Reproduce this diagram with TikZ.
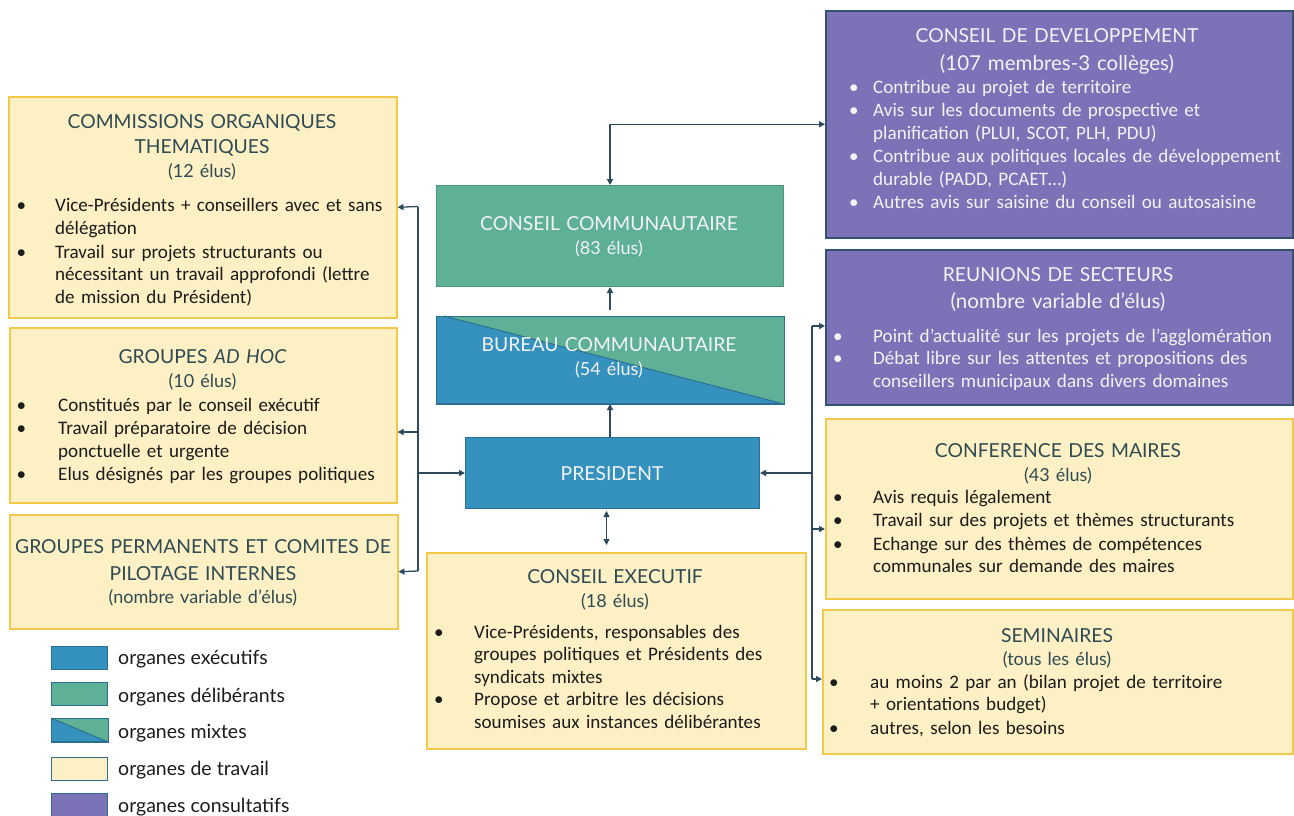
\documentclass[tikz,border=0pt]{standalone}
\usepackage{fontspec}
\setmainfont{Carlito}
\newfontfamily\lato{Lato}
\usetikzlibrary{arrows.meta}
\definecolor{cblue}{HTML}{3591BE}
\definecolor{cblueB}{HTML}{2B6F93}
\definecolor{cgreen}{HTML}{5EB197}
\definecolor{cgreenB}{HTML}{4A9680}
\definecolor{cyel}{HTML}{FEF0C5}
\definecolor{cyelB}{HTML}{F2C94A}
\definecolor{cpur}{HTML}{7C72B8}
\definecolor{cpurB}{HTML}{35536E}
\definecolor{ctitle}{HTML}{2E4A52}
\definecolor{cbody}{HTML}{1C1C1C}
\definecolor{carr}{HTML}{2F4B5B}
\definecolor{cwhite}{HTML}{F3F3F3}
\newcommand\bul[1][29pt]{\leavevmode\llap{\textbullet\hspace{#1}}\ignorespaces}
\tikzset{
  box/.style={draw, line width=1.5pt, inner sep=0pt, anchor=north west},
  ybox/.style={box, fill=cyel, draw=cyelB},
  pbox/.style={box, fill=cpur, draw=cpurB},
  ttl/.style={anchor=base, align=center, text width=460pt, inner sep=0pt,
    font=\lato\fontsize{19.3}{25}\selectfont, text=ctitle},
  sub/.style={ttl, font=\lato\fontsize{18}{22}\selectfont},
  bigsub/.style={ttl, font=\lato\fontsize{20.5}{24}\selectfont},
  wt/.style={text=cwhite},
  blist/.style={anchor=base west, align=left, text width=430pt, inner sep=0pt,
    font=\fontsize{19.1}{22.5}\selectfont, text=cbody},
  arr/.style={draw=carr, line width=1.3pt, -{Triangle[length=6pt,width=6pt]}},
  darr/.style={draw=carr, line width=1.3pt, {Triangle[length=6pt,width=6pt]}-{Triangle[length=6pt,width=6pt]}},
  cline/.style={draw=carr, line width=1.3pt},
  swatch/.style={draw=cblueB, line width=1pt, anchor=north west, minimum width=56pt, minimum height=23pt, inner sep=0pt},
  lgt/.style={anchor=base west, inner sep=0pt, font=\lato\fontsize{19.5}{22}\selectfont, text=cbody}
}
\begin{document}
\begin{tikzpicture}[x=1pt,y=-1pt]
\useasboundingbox (0,0) rectangle (1294,815);
\fill[white] (0,0) rectangle (1294,815);

% ---------- left column ----------
\node[ybox, minimum width=388pt, minimum height=221pt] (comm) at (8,96) {};
\node[ttl] (comm-t) at (202,128) {COMMISSIONS ORGANIQUES\\THEMATIQUES};
\node[sub] (comm-s) at (202,177) {(12 élus)};
\node[blist] (comm-b) at (55,211.7) {\bul Vice-Présidents + conseillers avec et sans\\ délégation\\[1.5pt] \bul Travail sur projets structurants ou\\ nécessitant un travail approfondi (lettre\\ de mission du Président)};

\node[ybox, minimum width=387pt, minimum height=175pt] (adhoc) at (9,327) {};
\node[ttl] (adhoc-t) at (202.5,363) {GROUPES {\itshape AD HOC}};
\node[sub] (adhoc-s) at (202.5,387) {(10 élus)};
\node[blist] (adhoc-b) at (58,411) {\bul[32pt] Constitués par le conseil exécutif\\[1pt] \bul[32pt] Travail préparatoire de décision\\ ponctuelle et urgente\\[1pt] \bul[32pt] Elus désignés par les groupes politiques};

\node[ybox, minimum width=388pt, minimum height=114pt] (perm) at (9,514) {};
\node[ttl, font=\lato\fontsize{19.3}{27}\selectfont] (perm-t) at (203,553) {GROUPES PERMANENTS ET COMITES DE\\PILOTAGE INTERNES};
\node[sub] (perm-s) at (203,603) {(nombre variable d’élus)};

% ---------- legend ----------
\node[swatch, fill=cblue] (lg1) at (51,646) {};
\node[swatch, fill=cgreen] (lg2) at (51,682) {};
\node[swatch, fill=cblue] (lg3) at (51,718) {};
\fill[cgreen] (lg3.north west) -- (lg3.north east) -- (lg3.south east) -- cycle;
\draw[cblueB, line width=1pt] (lg3.north west) -- (lg3.south east);
\draw[cblueB, line width=1pt] (lg3.north west) rectangle (lg3.south east);
\node[swatch, fill=cyel] (lg4) at (51,757) {};
\node[swatch, fill=cpur] (lg5) at (51,793) {};
\node[lgt] (lt1) at (118,664) {organes exécutifs};
\node[lgt] (lt2) at (118,702) {organes délibérants};
\node[lgt] (lt3) at (118,738) {organes mixtes};
\node[lgt] (lt4) at (118,775) {organes de travail};
\node[lgt] (lt5) at (118,812) {organes consultatifs};

% ---------- centre ----------
\node[box, fill=cgreen, draw=cgreenB, line width=1pt, minimum width=347pt, minimum height=101pt] (conseil) at (436,185) {};
\node[ttl, wt] (conseil-t) at (609,230) {CONSEIL COMMUNAUTAIRE};
\node[sub, wt] (conseil-s) at (609,254) {(83 élus)};

\node[box, fill=cblue, draw=cblueB, line width=1pt, minimum width=347pt, minimum height=87pt] (bureau) at (436,316) {};
\fill[cgreen] ([xshift=8pt]bureau.north west) -- (bureau.north east) -- (bureau.south east) -- cycle;
\draw[cblueB, line width=1pt] ([xshift=8pt]bureau.north west) -- (bureau.south east);
\draw[cblueB, line width=1pt] (bureau.north west) rectangle (bureau.south east);
\node[ttl, wt] (bureau-t) at (609,351) {BUREAU COMMUNAUTAIRE};
\node[sub, wt] (bureau-s) at (609,375) {(54 élus)};

\node[box, fill=cblue, draw=cblueB, line width=1pt, minimum width=294pt, minimum height=71pt] (pres) at (465,437) {};
\node[ttl, wt] (pres-t) at (612,480) {PRESIDENT};

\node[ybox, minimum width=379pt, minimum height=196pt] (exec) at (426,552) {};
\node[ttl] (exec-t) at (615,583) {CONSEIL EXECUTIF};
\node[sub] (exec-s) at (615,607) {(18 élus)};
\node[blist] (exec-b) at (474,638) {\bul[30.5pt] Vice-Présidents, responsables des\\ groupes politiques et Présidents des\\ syndicats mixtes\\ \bul[30.5pt] Propose et arbitre les décisions\\ soumises aux instances délibérantes};

% ---------- right column ----------
\node[pbox, minimum width=467pt, minimum height=227pt] (dev) at (825,10) {};
\node[ttl, wt] (dev-t) at (1057,42) {CONSEIL DE DEVELOPPEMENT};
\node[bigsub, wt] (dev-s) at (1057,70) {(107 membres-3 collèges)};
\node[blist, wt] (dev-b) at (873,93) {\bul[14.5pt] Contribue au projet de territoire\\[1pt] \bul[14.5pt] Avis sur les documents de prospective et\\ planification (PLUI, SCOT, PLH, PDU)\\[1pt] \bul[14.5pt] Contribue aux politiques locales de développement\\ durable (PADD, PCAET…)\\[1pt] \bul[14.5pt] Autres avis sur saisine du conseil ou autosaisine};

\node[pbox, minimum width=467pt, minimum height=155pt] (reun) at (825,249) {};
\node[ttl, wt] (reun-t) at (1058,281) {REUNIONS DE SECTEURS};
\node[bigsub, wt] (reun-s) at (1058,308) {(nombre variable d’élus)};
\node[blist, wt] (reun-b) at (873,342) {\bul[30.5pt] Point d’actualité sur les projets de l’agglomération\\ \bul[30.5pt] Débat libre sur les attentes et propositions des\\ conseillers municipaux dans divers domaines};

\node[ybox, minimum width=467pt, minimum height=180pt] (conf) at (825,418) {};
\node[ttl] (conf-t) at (1058,457) {CONFERENCE DES MAIRES};
\node[sub] (conf-s) at (1058,481) {(43 élus)};
\node[blist] (conf-b) at (873,503) {\bul[30.5pt] Avis requis légalement\\[1pt] \bul[30.5pt] Travail sur des projets et thèmes structurants\\[1pt] \bul[30.5pt] Echange sur des thèmes de compétences\\ communales sur demande des maires};

\node[ybox, minimum width=470pt, minimum height=144pt] (sem) at (822,609) {};
\node[ttl] (sem-t) at (1057,642) {SEMINAIRES};
\node[sub] (sem-s) at (1057,665) {(tous les élus)};
\node[blist] (sem-b) at (870,688) {\bul[31.5pt] au moins 2 par an (bilan projet de territoire\\ + orientations budget)\\[1pt] \bul[31.5pt] autres, selon les besoins};

% ---------- connectors ----------
\draw[darr] (conseil.north) |- (dev.west);
\draw[arr, shorten <=6pt] (bureau.north) -- (conseil.south);
\draw[arr] (bureau.south |- pres.north) -- (bureau.south);
\draw[darr, shorten <=2pt, shorten >=7pt] ([xshift=-6pt]pres.south) -- ([xshift=-6pt]pres.south |- exec.north);

% left trunk
\coordinate (lt) at (418,206.5);
\coordinate (lb) at (418,571);
\draw[cline] (lt) -- (lb);
\draw[arr] (lt) -- (comm.east);
\draw[arr] (418,432) -- (adhoc.east |- 418,432);
\draw[arr] (lb) -- (perm.east);
\draw[arr] (lt |- pres.west) -- (pres.west);

% right trunk
\coordinate (rt) at (812,326);
\coordinate (rb) at (812,679);
\draw[cline] (rt) -- (rb);
\draw[arr] (rt) -- (reun.west |- rt);
\draw[arr] (rt |- pres.east) -- (pres.east);
\draw[arr] (812,529) -- (conf.west |- 812,529);
\draw[arr] (rb) -- (sem.west |- rb);
\end{tikzpicture}
\end{document}
